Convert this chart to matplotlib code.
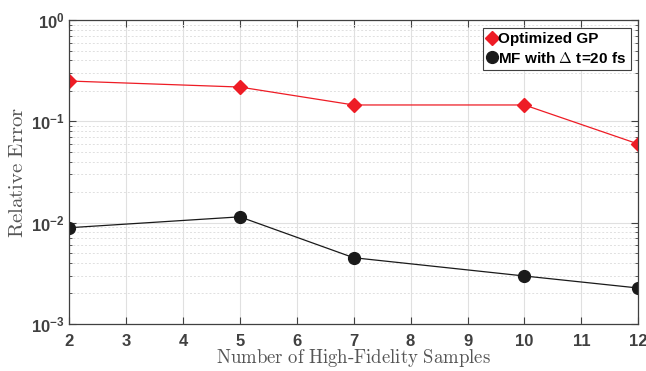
import matplotlib

matplotlib.use("Agg")
import matplotlib.pyplot as plt
from matplotlib.ticker import LogLocator, NullFormatter

# high-fidelity sample counts and relative errors
n_samples = [2, 5, 7, 10, 12]
err_gp = [0.25, 0.218, 0.145, 0.145, 0.0597]
err_mf = [0.0089, 0.0114, 0.0045, 0.00297, 0.00226]

plt.rcParams["mathtext.fontset"] = "cm"

fig = plt.figure(figsize=(6.46, 3.71), dpi=100)
ax = fig.add_axes([0.107, 0.127, 0.881, 0.819])

ax.plot(n_samples, err_gp, color="#ee1c25", lw=0.9, marker="D", ms=7,
        markeredgecolor="#ee1c25", label="Optimized GP")
ax.plot(n_samples, err_mf, color="#1a1a1a", lw=0.9, marker="o", ms=8.5,
        markeredgecolor="#1a1a1a", label=r"MF with $\Delta$ t=20 fs")

ax.set_yscale("log")
ax.set_xlim(2, 12)
ax.set_ylim(1e-3, 1)
ax.set_xticks(range(2, 13))
ax.yaxis.set_major_locator(LogLocator(base=10, numticks=10))
ax.yaxis.set_minor_locator(LogLocator(base=10, subs=range(2, 10), numticks=10))
ax.yaxis.set_minor_formatter(NullFormatter())

ax.grid(which="major", color="#e0e0e0", lw=0.8)
ax.grid(which="minor", axis="y", color="#e0e0e0", lw=0.7, ls=(0, (2, 2)))
ax.set_axisbelow(True)

ax.tick_params(which="both", direction="in", top=True, right=True, colors="#404040",
               labelcolor="#404040")
ax.tick_params(which="major", length=5, labelsize=12)
ax.tick_params(axis="x", which="major", pad=7)
ax.tick_params(which="minor", length=2.5)
for lbl in ax.get_xticklabels() + ax.get_yticklabels():
    lbl.set_fontweight("bold")
    lbl.set_family("Liberation Sans")
for sp in ax.spines.values():
    sp.set_color("#404040")
    sp.set_linewidth(0.9)

ax.set_xlabel(r"$\mathrm{Number\ of\ High\text{-}Fidelity\ Samples}$", fontsize=13.5,
              color="#555555", labelpad=-1)
ax.set_ylabel(r"$\mathrm{Relative\ Error}$", fontsize=15, color="#555555", labelpad=3)

leg = ax.legend(loc="upper right", prop={"family": "Liberation Sans", "weight": "bold", "size": 11},
                handlelength=0.6, handletextpad=0.1, borderpad=0.3, labelspacing=0.3,
                fancybox=False, framealpha=1, edgecolor="#404040", borderaxespad=0.5)
leg.get_frame().set_linewidth(0.8)

fig.savefig("out.png", dpi=100)
